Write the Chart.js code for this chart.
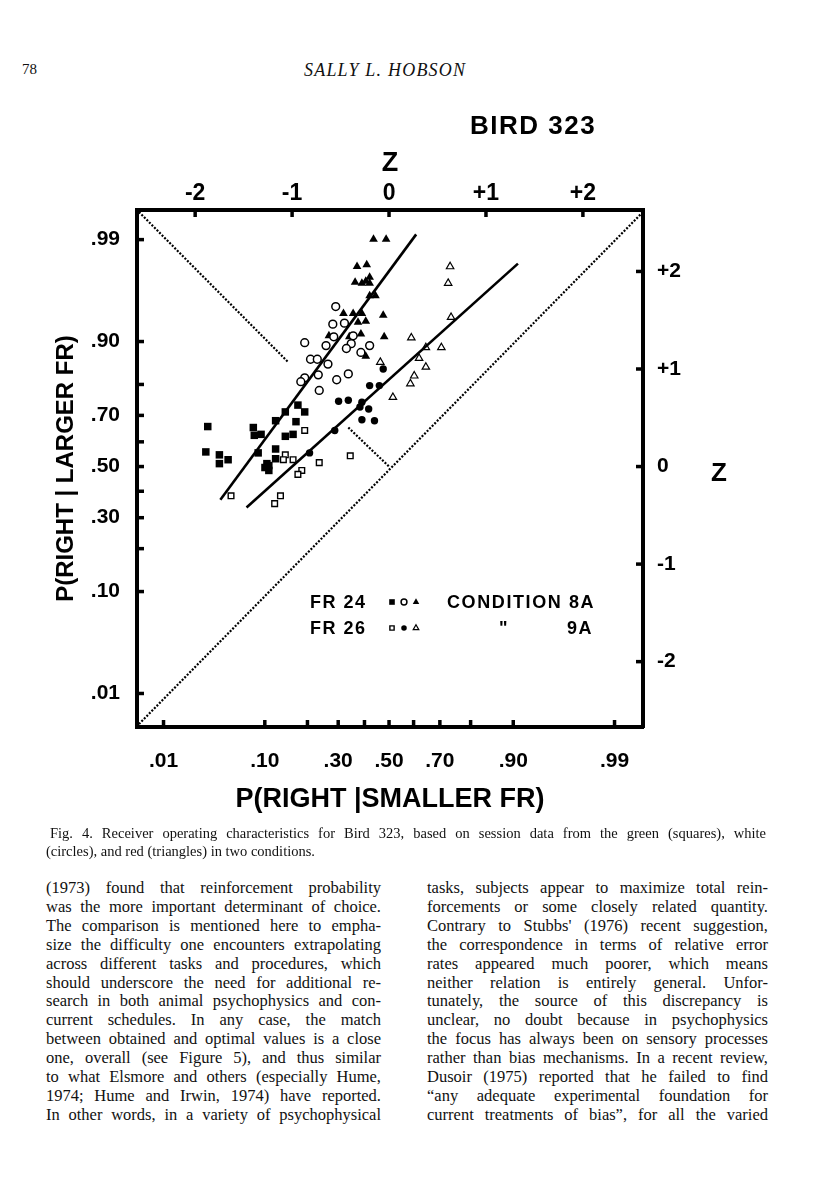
<!DOCTYPE html>
<html>
<head>
<meta charset="utf-8">
<script src="https://cdn.jsdelivr.net/npm/chart.js@4.4.1/dist/chart.umd.min.js"></script>
<style>
html, body { margin: 0; padding: 0; background: #fff; }
body { width: 816px; height: 1200px; position: relative; overflow: hidden; font-family: "Liberation Serif", "Times New Roman", serif; color: #111; }
#wrap { position: absolute; left: 0; top: 0; width: 816px; height: 830px; }
.abs { position: absolute; white-space: nowrap; line-height: 1; }
.fig { font-family: "Liberation Sans", Arial, sans-serif; font-weight: bold; color: #000; }
.col { position: absolute; font-size: 16.5px; line-height: 18.9px; }
.cap { position: absolute; font-size: 14.5px; line-height: 18px; }
.ln { white-space: nowrap; }
</style>
</head>
<body>

<div class="abs" style="left:22px; top:62px; font-size:15px;">78</div>
<div class="abs" style="left:304px; top:61px; font-size:18px; font-style:italic; letter-spacing:1.2px;">SALLY L. HOBSON</div>

<div id="wrap"><canvas id="rocChart" width="816" height="830"></canvas></div>

<div class="abs fig" style="left:470px; top:112px; font-size:26px; letter-spacing:1.5px;">BIRD 323</div>
<div class="abs fig" style="left:711px; top:459px; font-size:26px;">Z</div>

<div class="abs fig" style="left:310px; top:593px; font-size:18px; letter-spacing:1.5px;">FR 24</div>
<div class="abs fig" style="left:447px; top:593px; font-size:18px; letter-spacing:1.6px;">CONDITION 8A</div>
<div class="abs fig" style="left:310px; top:619px; font-size:18px; letter-spacing:1.5px;">FR 26</div>
<div class="abs fig" style="left:499px; top:619px; font-size:18px;">"</div>
<div class="abs fig" style="left:567px; top:619px; font-size:18px; letter-spacing:1.5px;">9A</div>

<div class="cap" style="left:50px; top:824px; width:716px;">
<div class="ln fit">Fig. 4. Receiver operating characteristics for Bird 323, based on session data from the green (squares), white</div>
</div>
<div class="cap" style="left:46px; top:842px; width:716px;">
<div class="ln">(circles), and red (triangles) in two conditions.</div>
</div>

<div class="col" style="left:46px; top:879px; width:335px;">
<div class="ln fit">(1973) found that reinforcement probability</div>
<div class="ln fit">was the more important determinant of choice.</div>
<div class="ln fit">The comparison is mentioned here to empha-</div>
<div class="ln fit">size the difficulty one encounters extrapolating</div>
<div class="ln fit">across different tasks and procedures, which</div>
<div class="ln fit">should underscore the need for additional re-</div>
<div class="ln fit">search in both animal psychophysics and con-</div>
<div class="ln fit">current schedules. In any case, the match</div>
<div class="ln fit">between obtained and optimal values is a close</div>
<div class="ln fit">one, overall (see Figure 5), and thus similar</div>
<div class="ln fit">to what Elsmore and others (especially Hume,</div>
<div class="ln fit">1974; Hume and Irwin, 1974) have reported.</div>
<div class="ln fit">In other words, in a variety of psychophysical</div>
</div>

<div class="col" style="left:427px; top:879px; width:341px;">
<div class="ln fit">tasks, subjects appear to maximize total rein-</div>
<div class="ln fit">forcements or some closely related quantity.</div>
<div class="ln fit">Contrary to Stubbs' (1976) recent suggestion,</div>
<div class="ln fit">the correspondence in terms of relative error</div>
<div class="ln fit">rates appeared much poorer, which means</div>
<div class="ln fit">neither relation is entirely general. Unfor-</div>
<div class="ln fit">tunately, the source of this discrepancy is</div>
<div class="ln fit">unclear, no doubt because in psychophysics</div>
<div class="ln fit">the focus has always been on sensory processes</div>
<div class="ln fit">rather than bias mechanisms. In a recent review,</div>
<div class="ln fit">Dusoir (1975) reported that he failed to find</div>
<div class="ln fit">&ldquo;any adequate experimental foundation for</div>
<div class="ln fit">current treatments of bias&rdquo;, for all the varied</div>
</div>

<script>
// Bird 323 ROC on normal-deviate (Z) axes
const getEl = (id) => document.getElementById(id);

// Axis ticks
const probTicks = [0.01, 0.10, 0.20, 0.30, 0.40, 0.50, 0.60, 0.70, 0.80, 0.90, 0.99];
const probLabels = ['.01', '.10', '', '.30', '', '.50', '', '.70', '', '.90', '.99'];
const zTicks = [-2, -1, 0, 1, 2];
const zLabels = ['-2', '-1', '0', '+1', '+2'];

// Points as (z smaller FR, z larger FR)
// Condition 8A / FR 24
const greenFilledSqX = [-1.87, -1.89, -1.75, -1.75, -1.66, -1.40, -1.39, -1.32, -1.17, -1.07, -0.94, -0.87, -0.96, -1.07, -0.99, -1.17, -1.17, -1.35, -1.28, -1.24, -1.24, -1.26];
const greenFilledSqY = [0.41, 0.15, 0.12, 0.03, 0.07, 0.40, 0.32, 0.33, 0.47, 0.56, 0.63, 0.56, 0.46, 0.31, 0.33, 0.18, 0.08, 0.14, -0.01, 0.01, -0.04, 0.03];
const whiteOpenCircX = [-0.55, -0.58, -0.46, -0.57, -0.37, -0.87, -0.65, -0.39, -0.44, -0.20, -0.29, -0.81, -0.74, -0.63, -0.73, -0.87, -0.91, -0.42, -0.54, -0.72];
const whiteOpenCircY = [1.64, 1.46, 1.47, 1.33, 1.34, 1.27, 1.24, 1.26, 1.21, 1.24, 1.17, 1.10, 1.10, 1.05, 0.94, 0.91, 0.87, 0.95, 0.89, 0.78];
const redFilledTriX = [-0.16, -0.03, -0.33, -0.23, -0.35, -0.28, -0.24, -0.20, -0.20, -0.20, -0.14, -0.47, -0.37, -0.28, -0.32, -0.24, -0.06, -0.62, -0.41, -0.29, -0.05, -0.24];
const redFilledTriY = [2.33, 2.33, 2.05, 2.07, 1.89, 1.88, 1.90, 1.94, 1.88, 1.75, 1.75, 1.57, 1.57, 1.57, 1.48, 1.49, 1.55, 1.34, 1.33, 1.36, 1.33, 1.13];

// Condition 9A / FR 26
const greenOpenSqX = [-0.87, -1.07, -1.09, -0.99, -0.90, -0.94, -0.72, -0.40, -1.63, -1.12, -1.18];
const greenOpenSqY = [0.37, 0.12, 0.07, 0.07, -0.04, -0.08, 0.04, 0.11, -0.30, -0.30, -0.38];
const whiteFilledCircX = [-0.82, -0.56, -0.52, -0.42, -0.28, -0.30, -0.21, -0.28, -0.15, -0.20, -0.10, -0.06];
const whiteFilledCircY = [0.14, 0.37, 0.67, 0.68, 0.66, 0.61, 0.59, 0.48, 0.47, 0.83, 0.83, 1.00];
const redOpenTriX = [0.63, 0.61, 0.64, 0.23, 0.38, 0.54, 0.31, 0.38, 0.26, 0.22, 0.04, -0.09];
const redOpenTriY = [2.05, 1.88, 1.53, 1.32, 1.22, 1.22, 1.11, 1.02, 0.93, 0.85, 0.71, 1.07];

// Fitted ROC lines and reference diagonals (endpoints)
const fit8aX = [-1.74, 0.28];
const fit8aY = [-0.34, 2.38];
const fit9aX = [-1.47, 1.33];
const fit9aY = [-0.42, 2.08];
const chanceX = [-2.58, 2.62];
const chanceY = [-2.64, 2.61];
const minorUpperX = [-2.58, -1.04];
const minorUpperY = [2.61, 1.07];
const minorLowerX = [-0.42, 0.0];
const minorLowerY = [0.40, 0.0];

const pts = (xs, ys) => xs.map((x, i) => ({ x, y: ys[i] }));

// inverse normal CDF (Acklam)
function probit(p) {
    const a = [-39.69683028665376, 220.9460984245205, -275.9285104469687, 138.3577518672690, -30.66479806614716, 2.506628277459239];
    const b = [-54.47609879822406, 161.5858368580409, -155.6989798598866, 66.80131188771972, -13.28068155288572];
    const c = [-0.007784894002430293, -0.3223964580411365, -2.400758277161838, -2.549732539343734, 4.374664141464968, 2.938163982698783];
    const d = [0.007784695709041462, 0.3224671290700398, 2.445134137142996, 3.754408661907416];
    const lo = 0.02425;
    if (p < lo) {
        const q = Math.sqrt(-2 * Math.log(p));
        return (((((c[0] * q + c[1]) * q + c[2]) * q + c[3]) * q + c[4]) * q + c[5]) / ((((d[0] * q + d[1]) * q + d[2]) * q + d[3]) * q + 1);
    }
    if (p > 1 - lo) return -probit(1 - p);
    const q = p - 0.5, r = q * q;
    return (((((a[0] * r + a[1]) * r + a[2]) * r + a[3]) * r + a[4]) * r + a[5]) * q / (((((b[0] * r + b[1]) * r + b[2]) * r + b[3]) * r + b[4]) * r + 1);
}

const FONT = 'Liberation Sans, Arial, sans-serif';
const INK = '#000';

const markStyles = {
    filledSq: { pointStyle: 'rect', pointRadius: 5.3, backgroundColor: INK, borderColor: INK, borderWidth: 0 },
    openSq: { pointStyle: 'rect', pointRadius: 4.0, backgroundColor: '#fff', borderColor: INK, borderWidth: 1.4 },
    openCirc: { pointStyle: 'circle', pointRadius: 3.9, backgroundColor: '#fff', borderColor: INK, borderWidth: 1.5 },
    filledCirc: { pointStyle: 'circle', pointRadius: 3.7, backgroundColor: INK, borderColor: INK, borderWidth: 0 },
    filledTri: { pointStyle: 'triangle', pointRadius: 5.0, backgroundColor: INK, borderColor: INK, borderWidth: 0 },
    openTri: { pointStyle: 'triangle', pointRadius: 4.3, backgroundColor: '#fff', borderColor: INK, borderWidth: 1.2 }
};

const pointSet = (label, xs, ys, style) => Object.assign({ label, data: pts(xs, ys), showLine: false, pointHoverRadius: style.pointRadius }, style);
const lineSet = (label, xs, ys, width, dash) => ({
    label, data: pts(xs, ys), showLine: true, pointRadius: 0, borderColor: INK, borderWidth: width, borderDash: dash, fill: false
});

// inward tick marks on all four sides + legend symbols
const boxTicks = {
    id: 'boxTicks',
    afterDraw(chart) {
        const { ctx, chartArea: a, scales } = chart;
        ctx.save();
        ctx.strokeStyle = INK;
        ctx.lineCap = 'butt';
        ctx.lineWidth = 3.5;
        const len = 7;
        scales.x.ticks.forEach(t => { const px = scales.x.getPixelForValue(t.value); ctx.beginPath(); ctx.moveTo(px, a.bottom + 1); ctx.lineTo(px, a.bottom - len); ctx.stroke(); });
        scales.x2.ticks.forEach(t => { const px = scales.x2.getPixelForValue(t.value); ctx.beginPath(); ctx.moveTo(px, a.top - 1); ctx.lineTo(px, a.top + len); ctx.stroke(); });
        scales.y.ticks.forEach(t => { const py = scales.y.getPixelForValue(t.value); ctx.beginPath(); ctx.moveTo(a.left - 1, py); ctx.lineTo(a.left + len, py); ctx.stroke(); });
        scales.y2.ticks.forEach(t => { const py = scales.y2.getPixelForValue(t.value); ctx.beginPath(); ctx.moveTo(a.right + 1, py); ctx.lineTo(a.right - len, py); ctx.stroke(); });

        // legend symbols
        const rows = [
            [markStyles.filledSq, markStyles.openCirc, markStyles.filledTri],
            [markStyles.openSq, markStyles.filledCirc, markStyles.openTri]
        ];
        rows.forEach((row, r) => {
            row.forEach((st, i) => {
                ctx.fillStyle = st.backgroundColor;
                ctx.strokeStyle = st.borderColor;
                ctx.lineWidth = st.borderWidth;
                Chart.helpers.drawPoint(ctx, { pointStyle: st.pointStyle, radius: st.pointRadius * 0.75, rotation: 0, borderWidth: st.borderWidth }, 392 + i * 12, 602 + r * 26);
            });
        });
        ctx.restore();
    }
};

const tickFont = { family: FONT, size: 21, weight: 'bold' };

new Chart(getEl('rocChart').getContext('2d'), {
    type: 'scatter',
    data: {
        datasets: [
            lineSet('chance', chanceX, chanceY, 2.2, [2, 1.6]),
            lineSet('minor diagonal', minorUpperX, minorUpperY, 2.2, [2, 1.6]),
            lineSet('minor diagonal 2', minorLowerX, minorLowerY, 2.2, [2, 1.6]),
            lineSet('Condition 8A fit', fit8aX, fit8aY, 2.6, []),
            lineSet('Condition 9A fit', fit9aX, fit9aY, 2.6, []),
            pointSet('FR 24 green', greenFilledSqX, greenFilledSqY, markStyles.filledSq),
            pointSet('FR 24 white', whiteOpenCircX, whiteOpenCircY, markStyles.openCirc),
            pointSet('FR 24 red', redFilledTriX, redFilledTriY, markStyles.filledTri),
            pointSet('FR 26 green', greenOpenSqX, greenOpenSqY, markStyles.openSq),
            pointSet('FR 26 white', whiteFilledCircX, whiteFilledCircY, markStyles.filledCirc),
            pointSet('FR 26 red', redOpenTriX, redOpenTriY, markStyles.openTri)
        ]
    },
    options: {
        responsive: false,
        animation: false,
        events: [],
        layout: { padding: 0 },
        plugins: { legend: { display: false }, tooltip: { enabled: false }, title: { display: false } },
        scales: {
            x: {
                type: 'linear', position: 'bottom', min: -2.6, max: 2.62,
                afterBuildTicks: s => { s.ticks = probTicks.map(p => ({ value: probit(p) })); },
                afterFit: s => { s.height = 103; },
                grid: { display: false },
                border: { display: true, width: 4, color: INK },
                ticks: { autoSkip: false, maxRotation: 0, padding: 14, color: INK, font: tickFont, callback: (v, i) => probLabels[i] },
                title: { display: true, text: 'P(RIGHT |SMALLER FR)', color: INK, font: { family: FONT, size: 27, weight: 'bold' }, padding: { top: 0, bottom: 14 } }
            },
            x2: {
                type: 'linear', position: 'top', min: -2.6, max: 2.62,
                afterBuildTicks: s => { s.ticks = zTicks.map(v => ({ value: v })); },
                afterFit: s => { s.height = 210; },
                grid: { display: false },
                border: { display: true, width: 4, color: INK },
                ticks: { autoSkip: false, maxRotation: 0, padding: -5, color: INK, font: { family: FONT, size: 23, weight: 'bold' }, callback: (v, i) => zLabels[i] },
                title: { display: true, text: 'Z', color: INK, font: { family: FONT, size: 27, weight: 'bold' }, padding: { top: 147, bottom: 0 } }
            },
            y: {
                type: 'linear', position: 'left', min: -2.67, max: 2.63,
                afterBuildTicks: s => { s.ticks = probTicks.map(p => ({ value: probit(p) })); },
                afterFit: s => { s.width = 137; },
                grid: { display: false },
                border: { display: true, width: 4, color: INK },
                ticks: { autoSkip: false, padding: 9, color: INK, font: tickFont, callback: (v, i) => probLabels[i] },
                title: { display: true, text: 'P(RIGHT | LARGER FR)', color: INK, font: { family: FONT, size: 24, weight: 'bold' }, padding: { top: 52, bottom: 0 } }
            },
            y2: {
                type: 'linear', position: 'right', min: -2.67, max: 2.63,
                afterBuildTicks: s => { s.ticks = zTicks.map(v => ({ value: v })); },
                afterFit: s => { s.width = 173; },
                grid: { display: false },
                border: { display: true, width: 4, color: INK },
                ticks: { autoSkip: false, padding: 6, color: INK, font: tickFont, callback: (v, i) => zLabels[i] }
            }
        }
    },
    plugins: [boxTicks]
});

// justify printed lines to their column width
document.querySelectorAll('.fit').forEach(el => {
    const target = el.parentElement.getBoundingClientRect().width;
    const span = document.createElement('span');
    span.textContent = el.textContent;
    el.textContent = '';
    el.appendChild(span);
    const natural = span.getBoundingClientRect().width;
    const text = span.textContent;
    const spaces = (text.match(/ /g) || []).length;
    const extra = target - natural;
    if (extra >= 0 && spaces) el.style.wordSpacing = (extra / spaces) + 'px';
    else el.style.letterSpacing = (extra / text.length) + 'px';
});
</script>
</body>
</html>
